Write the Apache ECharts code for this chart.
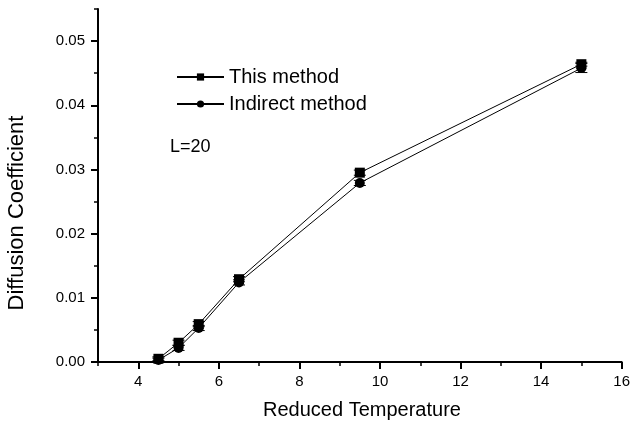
<!DOCTYPE html>
<html>
<head>
<meta charset="utf-8">
<script src="https://cdn.jsdelivr.net/npm/echarts@6/dist/echarts.min.js"></script>
<style>html,body{margin:0;padding:0;background:#fff;}#c{width:633px;height:424px;}</style>
</head>
<body>
<div id="c"></div>
<script>
var temps = [4.5, 5, 5.5, 6.5, 9.5, 15];
var thisMethod = [0.0005, 0.0030, 0.0059, 0.0129, 0.0295, 0.0464];
var thisErr = [0.0003, 0.0004, 0.0004, 0.0004, 0.0004, 0.0003];
var indirect = [0.0003, 0.0022, 0.0053, 0.0124, 0.0279, 0.0458];
var indirectErr = [0.0003, 0.0004, 0.0004, 0.0004, 0.0004, 0.0007];
var xMajor = [4, 6, 8, 10, 12, 14, 16];
var yMajor = [0, 0.01, 0.02, 0.03, 0.04, 0.05];

var FONT = 'Liberation Sans, Arial, sans-serif';
var chart = echarts.init(document.getElementById('c'));

function pairs(ys, es) {
  return temps.map(function (t, i) { return [t, ys[i], es[i]]; });
}
function errRender(params, api) {
  var x = api.value(0), y = api.value(1), e = api.value(2);
  var top = api.coord([x, y + e]);
  var bot = api.coord([x, y - e]);
  var hw = 6;
  var st = { stroke: '#000', lineWidth: 1 };
  return {
    type: 'group',
    children: [
      { type: 'line', shape: { x1: top[0], y1: top[1], x2: bot[0], y2: bot[1] }, style: st },
      { type: 'line', shape: { x1: top[0] - hw, y1: top[1], x2: top[0] + hw, y2: top[1] }, style: st },
      { type: 'line', shape: { x1: bot[0] - hw, y1: bot[1], x2: bot[0] + hw, y2: bot[1] }, style: st }
    ]
  };
}

var grid = { left: 98, right: 6, top: 9, bottom: 62 };
chart.setOption({
  animation: false,
  backgroundColor: '#fff',
  grid: grid,
  xAxis: [{
    type: 'value', min: 3, max: 16, interval: 1,
    axisLine: { show: true, lineStyle: { color: '#000', width: 2 } },
    axisTick: { show: true, inside: false, length: 7, customValues: xMajor, lineStyle: { color: '#000', width: 2 } },
    axisLabel: { show: true, customValues: xMajor, margin: 12, color: '#000', fontSize: 15, fontFamily: FONT },
    splitLine: { show: false }
  }, {
    type: 'value', min: 3, max: 16, interval: 1, position: 'bottom',
    axisLine: { show: false },
    axisTick: { show: true, length: 4, lineStyle: { color: '#000', width: 1.5 } },
    axisLabel: { show: false },
    splitLine: { show: false }
  }],
  yAxis: [{
    type: 'value', min: 0, max: 0.055, interval: 0.005,
    axisLine: { show: true, lineStyle: { color: '#000', width: 2 } },
    axisTick: { show: true, length: 7, customValues: yMajor, lineStyle: { color: '#000', width: 2 } },
    axisLabel: { show: true, customValues: yMajor, margin: 13, color: '#000', fontSize: 15, fontFamily: FONT,
      formatter: function (v) { return v.toFixed(2); } },
    splitLine: { show: false }
  }, {
    type: 'value', min: 0, max: 0.055, interval: 0.005, position: 'left',
    axisLine: { show: false },
    axisTick: { show: true, length: 4, lineStyle: { color: '#000', width: 1.5 } },
    axisLabel: { show: false },
    splitLine: { show: false }
  }],
  legend: {
    orient: 'vertical', left: 171, top: 62,
    itemWidth: 47, itemHeight: 9, itemGap: 7,
    textStyle: { color: '#000', fontSize: 20, fontFamily: FONT, lineHeight: 20 },
    data: ['This method', 'Indirect method']
  },
  graphic: [
    { type: 'text', left: 170, top: 138, style: { text: 'L=20', fontSize: 18, fontFamily: FONT, fill: '#000' } },
    { type: 'text', x: 362, y: 410, style: { text: 'Reduced Temperature', fontSize: 20, fontFamily: FONT, fill: '#000', align: 'center', verticalAlign: 'middle' } },
    { type: 'text', x: 17, y: 213, rotation: Math.PI / 2, style: { text: 'Diffusion Coefficient', fontSize: 22, fontFamily: FONT, fill: '#000', align: 'center', verticalAlign: 'middle' } }
  ],
  series: [{
    name: 'This method', type: 'line', data: pairs(thisMethod, thisErr),
    symbol: 'rect', symbolSize: 10, showSymbol: true,
    lineStyle: { color: '#000', width: 1 }, itemStyle: { color: '#000' }, z: 3
  }, {
    name: 'Indirect method', type: 'line', data: pairs(indirect, indirectErr),
    symbol: 'circle', symbolSize: 10, showSymbol: true,
    lineStyle: { color: '#000', width: 1 }, itemStyle: { color: '#000' }, z: 3
  }, {
    type: 'custom', renderItem: errRender, data: pairs(thisMethod, thisErr), z: 4, silent: true
  }, {
    type: 'custom', renderItem: errRender, data: pairs(indirect, indirectErr), z: 4, silent: true
  }]
});
</script>
</body>
</html>
